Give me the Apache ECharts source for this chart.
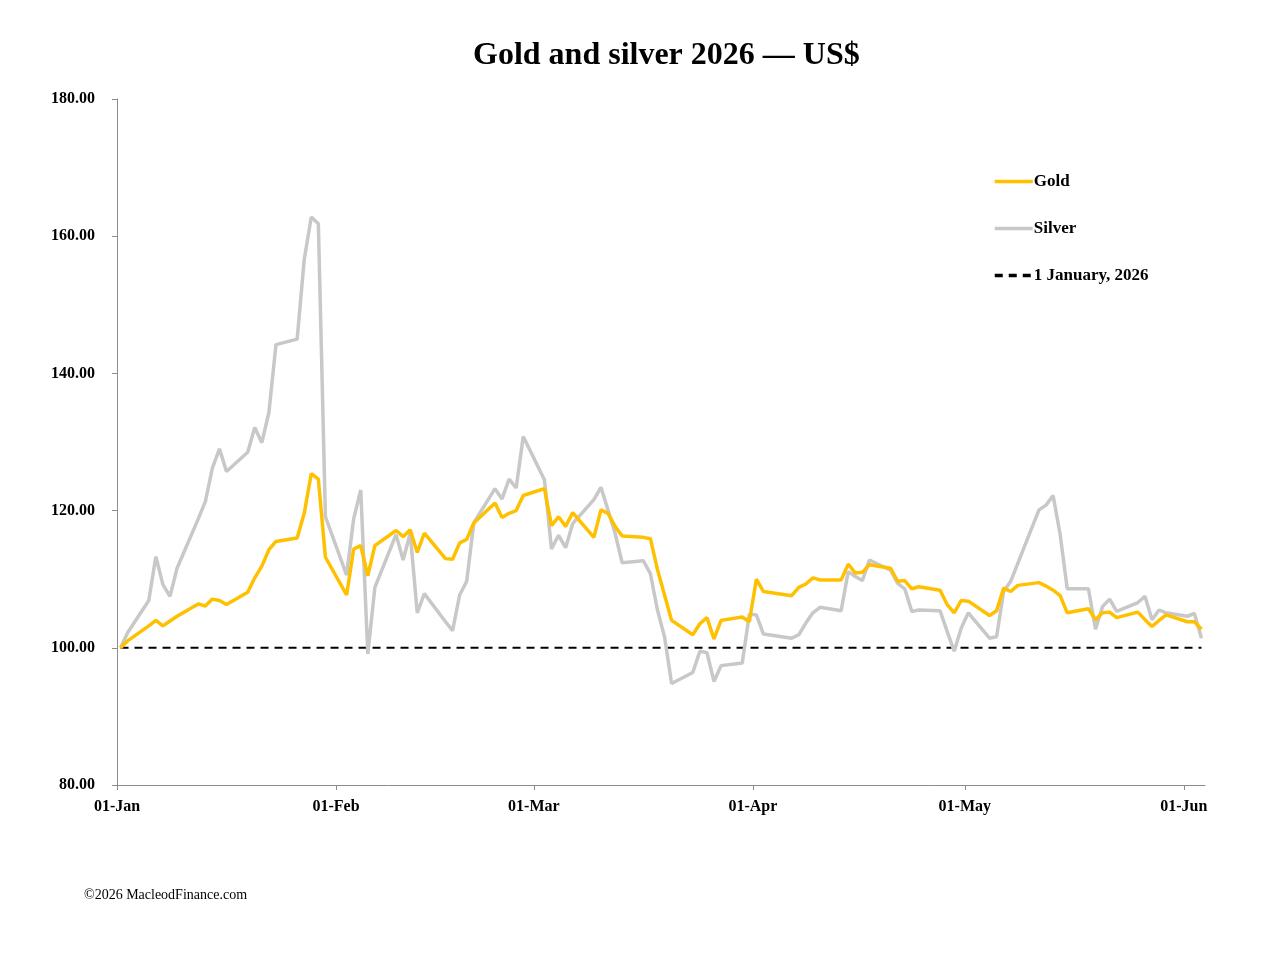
<!DOCTYPE html>
<html lang="en">
<head>
    <meta charset="UTF-8">
    <title>Gold and silver 2026</title>
    <style>
        html, body { margin: 0; padding: 0; background: #fff; }
        #chart_main { width: 1268px; height: 956px; }
    </style>
</head>
<body>
<div id="chart_main"></div>
<script src="https://cdn.jsdelivr.net/npm/echarts@6/dist/echarts.min.js"></script>
<script>
    // trading days (2026)
    var dates = [
        '01-01', '01-02', '01-05', '01-06', '01-07', '01-08', '01-09', '01-12', '01-13', '01-14', '01-15',
        '01-16', '01-19', '01-20', '01-21', '01-22', '01-23', '01-26', '01-27', '01-28', '01-29', '01-30',
        '02-02', '02-03', '02-04', '02-05', '02-06', '02-09', '02-10', '02-11', '02-12', '02-13',
        '02-16', '02-17', '02-18', '02-19', '02-20', '02-23', '02-24', '02-25', '02-26', '02-27',
        '03-02', '03-03', '03-04', '03-05', '03-06', '03-09', '03-10', '03-11', '03-12', '03-13', '03-16',
        '03-17', '03-18', '03-19', '03-20', '03-23', '03-24', '03-25', '03-26', '03-27', '03-30', '03-31',
        '04-01', '04-02', '04-06', '04-07', '04-08', '04-09', '04-10', '04-13', '04-14', '04-15', '04-16',
        '04-17', '04-20', '04-21', '04-22', '04-23', '04-24', '04-27', '04-28', '04-29', '04-30',
        '05-01', '05-04', '05-05', '05-06', '05-07', '05-08', '05-11', '05-12', '05-13', '05-14', '05-15',
        '05-18', '05-19', '05-20', '05-21', '05-22', '05-25', '05-26', '05-27', '05-28', '05-29',
        '06-01', '06-02', '06-03'
    ];

    // rebased to 1 January = 100
    var gold = [
        100, 101.0, 103.2, 104.0, 103.2, 103.9, 104.6, 106.4, 106.1, 107.1, 106.9,
        106.3, 108.1, 110.2, 111.9, 114.3, 115.5, 116.0, 119.6, 125.4, 124.6, 113.2,
        107.7, 114.4, 114.9, 110.5, 114.9, 117.1, 116.2, 117.2, 113.9, 116.7,
        113.0, 112.9, 115.3, 115.8, 118.2, 121.1, 119.0, 119.6, 120.0, 122.2,
        123.2, 117.8, 119.1, 117.7, 119.7, 116.1, 120.1, 119.6, 117.7, 116.3, 116.1,
        115.9, 111.4, 107.7, 104.0, 101.9, 103.5, 104.4, 101.3, 104.0, 104.5, 103.8,
        110.0, 108.2, 107.6, 108.8, 109.3, 110.2, 109.9, 109.9, 112.2, 110.9, 111.0,
        112.1, 111.6, 109.7, 109.8, 108.6, 108.9, 108.4, 106.3, 105.1, 106.9,
        106.8, 104.7, 105.4, 108.7, 108.2, 109.1, 109.5, 109.0, 108.4, 107.6, 105.1,
        105.7, 104.1, 105.1, 105.2, 104.4, 105.2, 104.1, 103.1, 104.0, 104.8,
        103.8, 103.8, 102.7
    ];

    var silver = [
        100, 102.2, 106.9, 113.3, 109.2, 107.5, 111.6, 118.8, 121.3, 126.2, 129.0,
        125.7, 128.5, 132.1, 129.9, 134.3, 144.2, 145.0, 156.6, 162.8, 161.8, 119.1,
        110.6, 118.8, 123.0, 99.1, 108.8, 116.5, 112.8, 116.7, 105.1, 107.9,
        103.8, 102.5, 107.7, 109.7, 118.2, 123.2, 121.7, 124.6, 123.3, 130.8,
        124.5, 114.4, 116.4, 114.6, 118.1, 121.6, 123.4, 120.1, 116.7, 112.4, 112.7,
        110.8, 105.5, 101.6, 94.8, 96.4, 99.5, 99.3, 95.1, 97.4, 97.8, 104.9,
        104.8, 102.0, 101.4, 101.9, 103.6, 105.1, 105.9, 105.4, 111.1, 110.4, 109.8,
        112.8, 111.3, 109.4, 108.6, 105.3, 105.5, 105.4, 102.4, 99.5, 102.9,
        105.1, 101.4, 101.6, 108.2, 109.7, 112.3, 120.1, 120.8, 122.2, 116.5, 108.6,
        108.6, 102.7, 106.0, 107.1, 105.3, 106.6, 107.5, 104.1, 105.5, 105.1,
        104.6, 105.0, 101.4
    ];

    var baseValue = 100;
    var monthTicks = ['2026-01-01', '2026-02-01', '2026-03-01', '2026-04-01', '2026-05-01', '2026-06-01'];
    var monthNames = ['Jan', 'Feb', 'Mar', 'Apr', 'May', 'Jun', 'Jul', 'Aug', 'Sep', 'Oct', 'Nov', 'Dec'];
    var xMin = '2026-01-01', xMax = '2026-06-04';
    var yTicks = [80, 100, 120, 140, 160, 180];

    // Excel puts each day in the middle of its slot -> noon
    function ts(d) {
        return new Date('2026-' + d + 'T12:00:00').getTime();
    }
    function tsDay(s) {
        return new Date(s + 'T00:00:00').getTime();
    }
    function pairs(vals) {
        var res = [];
        for (var i = 0; i < dates.length; i++) {
            res.push([ts(dates[i]), vals[i]]);
        }
        return res;
    }
    var baseline = [[ts(dates[0]), baseValue], [ts(dates[dates.length - 1]), baseValue]];
    var tickTs = monthTicks.map(tsDay);

    var font = 'Liberation Serif';
    var myChart = echarts.init(document.getElementById('chart_main'), null, {renderer: 'canvas'});
    myChart.setOption({
        animation: false,
        backgroundColor: '#ffffff',
        title: {
            text: 'Gold and silver 2026 \u2014 US$',
            left: 468,
            top: 35,
            textStyle: {fontFamily: font, fontWeight: 'bold', fontSize: 32, color: '#000'}
        },
        graphic: [{
            type: 'text',
            left: 84,
            top: 888,
            style: {text: '\u00a92026 MacleodFinance.com', font: '14px "Liberation Serif"', fill: '#000'}
        }],
        legend: {
            orient: 'vertical',
            left: 988,
            top: 168,
            itemWidth: 38,
            itemHeight: 18,
            itemGap: 30,
            data: ['Gold', 'Silver', '1 January, 2026'],
            itemStyle: {opacity: 0},
            lineStyle: {width: 3.5},
            textStyle: {fontFamily: font, fontWeight: 'bold', fontSize: 17, color: '#000', padding: [0, 0, 0, -4]}
        },
        grid: {left: 117, right: 63, top: 99, bottom: 171, containLabel: false},
        xAxis: {
            type: 'value',
            min: tsDay(xMin),
            max: tsDay(xMax),
            axisLine: {show: true, lineStyle: {color: '#8c8c8c', width: 1}},
            axisTick: {
                show: true, length: 5, inside: false,
                lineStyle: {color: '#8c8c8c'},
                customValues: tickTs
            },
            axisLabel: {
                customValues: tickTs,
                fontFamily: font, fontWeight: 'bold', fontSize: 16, color: '#000', margin: 14,
                formatter: function (v) {
                    var d = new Date(v);
                    var dd = d.getDate();
                    return (dd < 10 ? '0' + dd : dd) + '-' + monthNames[d.getMonth()];
                }
            },
            splitLine: {show: false}
        },
        yAxis: {
            type: 'value',
            min: yTicks[0],
            max: yTicks[yTicks.length - 1],
            interval: 20,
            axisLine: {show: true, lineStyle: {color: '#8c8c8c', width: 1}},
            axisTick: {show: true, length: 5, lineStyle: {color: '#8c8c8c'}},
            axisLabel: {
                fontFamily: font, fontWeight: 'bold', fontSize: 16, color: '#000', margin: 22,
                formatter: function (v) { return v.toFixed(2); }
            },
            splitLine: {show: false}
        },
        series: [
            {
                name: 'Gold',
                type: 'line',
                symbol: 'none',
                data: pairs(gold),
                lineStyle: {color: '#FFC000', width: 3.5},
                itemStyle: {color: '#FFC000'},
                z: 4
            },
            {
                name: 'Silver',
                type: 'line',
                symbol: 'none',
                data: pairs(silver),
                lineStyle: {color: '#C8C8C8', width: 3.5},
                itemStyle: {color: '#C8C8C8'},
                z: 3
            },
            {
                name: '1 January, 2026',
                type: 'line',
                symbol: 'none',
                data: baseline,
                lineStyle: {color: '#000', width: 2, type: [8, 6]},
                itemStyle: {color: '#000'},
                z: 2
            }
        ]
    });
    window.addEventListener("resize", function () {
        myChart.resize();
    });
</script>
</body>
</html>
